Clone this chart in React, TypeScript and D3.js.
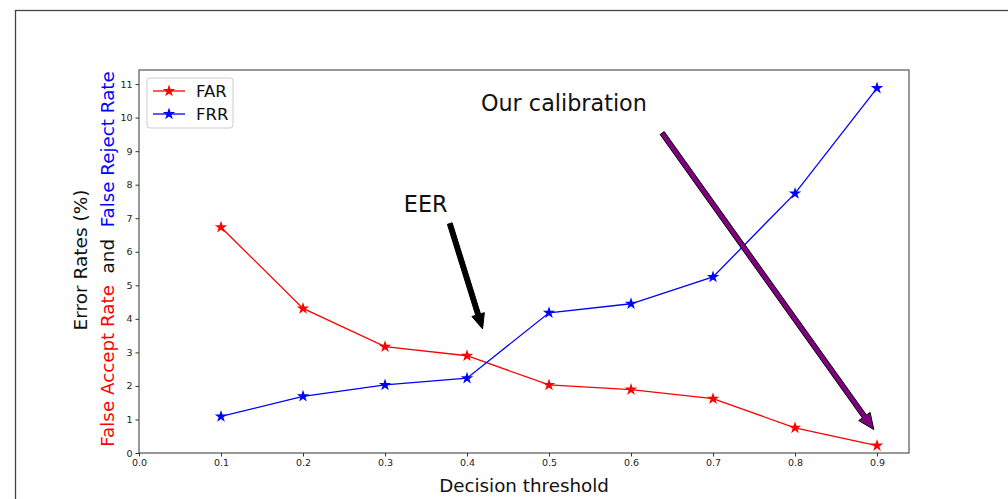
import React, { useEffect, useRef } from 'react';
import * as d3 from 'd3';

const THRESHOLDS = [0.1, 0.2, 0.3, 0.4, 0.5, 0.6, 0.7, 0.8, 0.9];
const FAR = [6.73, 4.31, 3.17, 2.9, 2.03, 1.89, 1.62, 0.75, 0.22];
const FRR = [1.09, 1.69, 2.03, 2.23, 4.18, 4.45, 5.25, 7.74, 10.88];
const X_TICKS = [0, 0.1, 0.2, 0.3, 0.4, 0.5, 0.6, 0.7, 0.8, 0.9];
const Y_TICKS = [0, 1, 2, 3, 4, 5, 6, 7, 8, 9, 10, 11];

const SERIES = [
    { name: 'FAR', values: FAR, color: '#ff0000' },
    { name: 'FRR', values: FRR, color: '#0000ff' },
];

// annotations, in data coordinates
const ANNOTATIONS = [
    { text: 'EER', tx: 0.323, ty: 7.18, from: [0.379, 6.84], to: [0.419, 3.7], fill: '#000', edge: '#000', shaft: 5, headW: 13, headL: 15 },
    { text: 'Our calibration', tx: 0.417, ty: 10.2, from: [0.638, 9.54], to: [0.896, 0.7], fill: '#800080', edge: '#000', shaft: 5, headW: 14, headL: 16 },
];

const FONT = '"DejaVu Sans", sans-serif';

const App = () => {
    const svgRef = useRef<SVGSVGElement>(null);
    const width = 1008;
    const height = 499;
    const margin = { top: 70, right: 99, bottom: 46, left: 139 };

    useEffect(() => {
        const svg = d3.select(svgRef.current);
        svg.selectAll('*').remove();

        const x = d3.scaleLinear()
            .domain([0, 0.939])
            .range([margin.left, width - margin.right]);
        const y = d3.scaleLinear()
            .domain([0, 11.42])
            .range([height - margin.bottom, margin.top]);

        // outer figure frame
        svg.append('rect')
            .attr('x', 15.5).attr('y', 10.5)
            .attr('width', 1100).attr('height', 600)
            .attr('fill', 'none').attr('stroke', '#444').attr('stroke-width', 1.3);

        // axes
        const xAxis = svg.append('g')
            .attr('transform', `translate(0,${height - margin.bottom})`)
            .call(d3.axisBottom(x).tickValues(X_TICKS).tickFormat(d3.format('.1f')).tickSize(3.5).tickPadding(3));
        const yAxis = svg.append('g')
            .attr('transform', `translate(${margin.left},0)`)
            .call(d3.axisLeft(y).tickValues(Y_TICKS).tickFormat(d3.format('d')).tickSize(3.5).tickPadding(3));
        [xAxis, yAxis].forEach(g => {
            g.select('.domain').remove();
            g.selectAll('line').attr('stroke', '#333');
            g.selectAll('text').attr('font-family', FONT).attr('font-size', 9.5).attr('fill', '#222');
        });

        // spines
        svg.append('rect')
            .attr('x', margin.left).attr('y', margin.top)
            .attr('width', width - margin.right - margin.left)
            .attr('height', height - margin.bottom - margin.top)
            .attr('fill', 'none').attr('stroke', '#333').attr('stroke-width', 1);

        const star = d3.symbol().type(d3.symbolStar).size(48);
        const line = d3.line<number>()
            .x((_, i) => x(THRESHOLDS[i]))
            .y(d => y(d));

        SERIES.forEach(s => {
            svg.append('path')
                .attr('d', line(s.values))
                .attr('fill', 'none')
                .attr('stroke', s.color)
                .attr('stroke-width', 1.3);
            svg.selectAll(null)
                .data(s.values)
                .enter()
                .append('path')
                .attr('d', star)
                .attr('transform', (d, i) => `translate(${x(THRESHOLDS[i])},${y(d)})`)
                .attr('fill', s.color);
        });

        // annotations with arrows
        ANNOTATIONS.forEach(a => {
            svg.append('text')
                .attr('x', x(a.tx)).attr('y', y(a.ty))
                .attr('font-family', FONT).attr('font-size', 22.3)
                .attr('fill', '#111')
                .text(a.text);

            const x0 = x(a.from[0]), y0 = y(a.from[1]);
            const x1 = x(a.to[0]), y1 = y(a.to[1]);
            const len = Math.hypot(x1 - x0, y1 - y0);
            const ux = (x1 - x0) / len, uy = (y1 - y0) / len;
            const nx = -uy, ny = ux;
            const bx = x1 - ux * a.headL, by = y1 - uy * a.headL;
            const hs = a.shaft / 2, hh = a.headW / 2;
            const pts: [number, number][] = [
                [x0 + nx * hs, y0 + ny * hs],
                [bx + nx * hs, by + ny * hs],
                [bx + nx * hh, by + ny * hh],
                [x1, y1],
                [bx - nx * hh, by - ny * hh],
                [bx - nx * hs, by - ny * hs],
                [x0 - nx * hs, y0 - ny * hs],
            ];
            svg.append('polygon')
                .attr('points', pts.map(p => p.join(',')).join(' '))
                .attr('fill', a.fill)
                .attr('stroke', a.edge)
                .attr('stroke-width', 1);
        });

        // legend
        const lg = svg.append('g').attr('transform', `translate(${margin.left + 8},${margin.top + 8})`);
        lg.append('rect')
            .attr('width', 86).attr('height', 50)
            .attr('rx', 3)
            .attr('fill', '#fff').attr('fill-opacity', 0.8)
            .attr('stroke', '#ccc');
        SERIES.forEach((s, i) => {
            const cy = 13 + i * 23;
            lg.append('line')
                .attr('x1', 6).attr('x2', 38).attr('y1', cy).attr('y2', cy)
                .attr('stroke', s.color).attr('stroke-width', 1.3);
            lg.append('path')
                .attr('d', star)
                .attr('transform', `translate(22,${cy})`)
                .attr('fill', s.color);
            lg.append('text')
                .attr('x', 49).attr('y', cy + 6)
                .attr('font-family', FONT).attr('font-size', 16.5)
                .attr('fill', '#111')
                .text(s.name);
        });

        // axis labels
        svg.append('text')
            .attr('x', 524)
            .attr('y', 492)
            .attr('text-anchor', 'middle')
            .attr('font-family', FONT).attr('font-size', 18.3)
            .attr('fill', '#111')
            .text('Decision threshold');

        svg.append('text')
            .attr('transform', 'translate(87,260) rotate(-90)')
            .attr('text-anchor', 'middle')
            .attr('font-family', FONT).attr('font-size', 18.5)
            .attr('fill', '#111')
            .text('Error Rates (%)');

        const yl = svg.append('text')
            .attr('transform', 'translate(114,259) rotate(-90)')
            .attr('text-anchor', 'middle')
            .attr('font-family', FONT).attr('font-size', 18.3)
            .attr('xml:space', 'preserve');
        yl.append('tspan').attr('fill', '#ff0000').text('False Accept Rate');
        yl.append('tspan').attr('fill', '#111').text('  and  ');
        yl.append('tspan').attr('fill', '#0000ff').text('False Reject Rate');
    }, []);

    return (
        <svg
            ref={svgRef}
            width={width}
            height={height}
            style={{ position: 'absolute', left: 0, top: 0, background: '#fff' }}
        />
    );
};

export default App;
